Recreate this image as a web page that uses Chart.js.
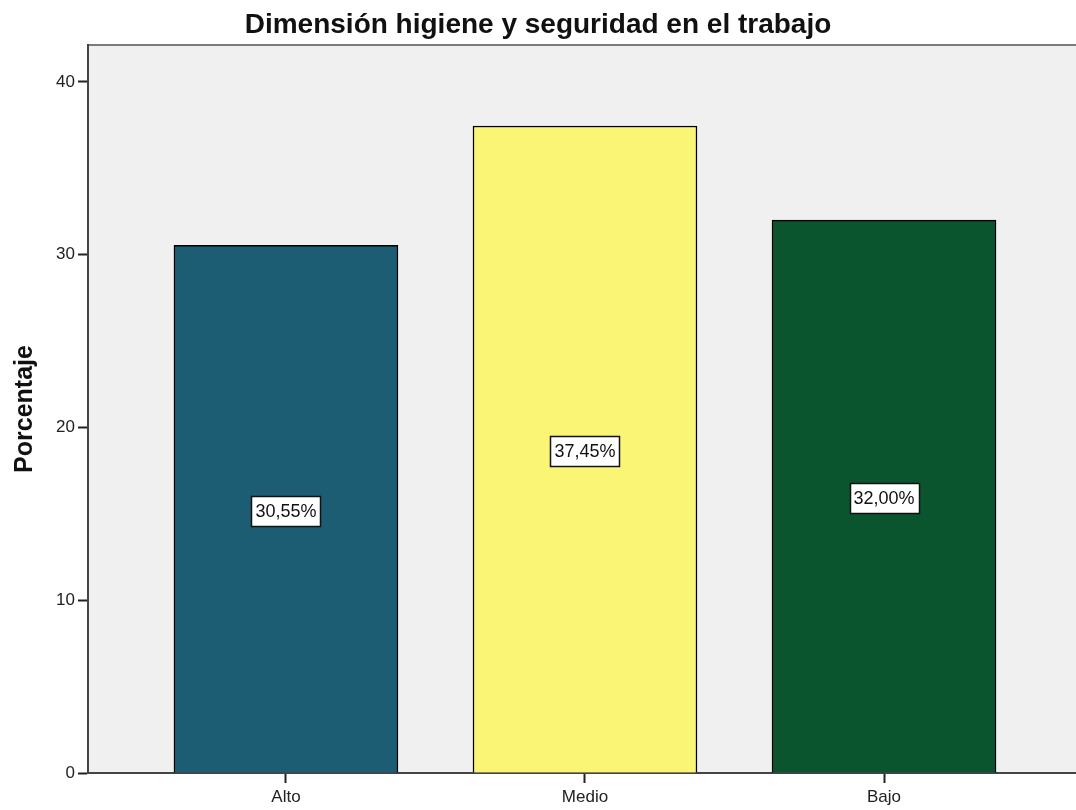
<!DOCTYPE html>
<html>
<head>
<meta charset="utf-8">
<script src="https://cdn.jsdelivr.net/npm/chart.js@4/dist/chart.umd.min.js"></script>
<style>
  body { margin: 0; background: #ffffff; }
</style>
</head>
<body>
<canvas id="chart" width="1076" height="810"></canvas>
<script>
// data
const categorias = ['Alto', 'Medio', 'Bajo'];
const porcentajes = [30.55, 37.45, 32.00];
const etiquetas = ['30,55%', '37,45%', '32,00%'];
const colores = ['#1d5d74', '#faf575', '#0b552e'];
const yTicks = [0, 10, 20, 30, 40];

Chart.defaults.font.family = "'Liberation Sans', Arial, sans-serif";
Chart.defaults.color = '#222';

// grey plot background + top frame line
const fondo = {
    id: 'fondo',
    beforeDraw(chart) {
        const a = chart.chartArea;
        const ctx = chart.ctx;
        ctx.save();
        ctx.fillStyle = '#f0f0f0';
        ctx.fillRect(a.left, a.top, a.right - a.left, a.bottom - a.top);
        ctx.strokeStyle = '#7a7a7a';
        ctx.lineWidth = 2;
        ctx.beginPath();
        ctx.moveTo(a.left, a.top);
        ctx.lineTo(a.right, a.top);
        ctx.stroke();
        ctx.restore();
    }
};

// boxed percentage labels in the middle of each bar
const cajas = {
    id: 'cajas',
    afterDatasetsDraw(chart) {
        const ctx = chart.ctx;
        const meta = chart.getDatasetMeta(0);
        ctx.save();
        ctx.font = "18px 'Liberation Sans', Arial, sans-serif";
        ctx.textAlign = 'center';
        ctx.textBaseline = 'middle';
        meta.data.forEach((bar, i) => {
            const cy = (bar.y + bar.base) / 2 + 2;
            const w = Math.round(ctx.measureText(etiquetas[i]).width + 8);
            const h = 30;
            const x0 = Math.round(bar.x - w / 2) + 0.5;
            const y0 = Math.round(cy - h / 2) + 0.5;
            ctx.fillStyle = '#ffffff';
            ctx.fillRect(x0, y0, w, h);
            ctx.strokeStyle = '#111';
            ctx.lineWidth = 1.5;
            ctx.strokeRect(x0, y0, w, h);
            ctx.fillStyle = '#111';
            ctx.fillText(etiquetas[i], bar.x, cy + 1);
        });
        ctx.restore();
    }
};

const puntos = porcentajes.map((v, i) => ({ x: i + 1, y: v }));

new Chart(document.getElementById('chart'), {
    type: 'bar',
    data: {
        datasets: [{
            data: puntos,
            backgroundColor: colores,
            borderColor: '#000',
            borderWidth: 1.5,
            barThickness: 224
        }]
    },
    options: {
        responsive: false,
        animation: false,
        layout: { padding: 0 },
        plugins: {
            legend: { display: false },
            tooltip: { enabled: false },
            title: {
                display: true,
                text: 'Dimensión higiene y seguridad en el trabajo',
                color: '#111',
                font: { size: 28, weight: 'bold', lineHeight: 1.2 },
                padding: { top: 8, bottom: 3.4 }
            }
        },
        scales: {
            x: {
                type: 'linear',
                min: 0.338,
                max: 3.642,
                offset: false,
                afterBuildTicks(scale) {
                    scale.ticks = categorias.map((c, i) => ({ value: i + 1 }));
                },
                afterFit(scale) { scale.height = 37; },
                ticks: {
                    callback: (v) => categorias[v - 1],
                    font: { size: 17 },
                    color: '#222',
                    padding: 4,
                    maxRotation: 0
                },
                grid: {
                    offset: false,
                    drawOnChartArea: false,
                    tickLength: 10,
                    tickWidth: 2,
                    color: '#222'
                },
                border: { color: '#444', width: 2 }
            },
            y: {
                min: 0,
                max: 42.14,
                afterBuildTicks(scale) {
                    scale.ticks = yTicks.map(v => ({ value: v }));
                },
                afterFit(scale) { scale.width = 88; },
                ticks: {
                    font: { size: 17 },
                    color: '#222',
                    padding: 3
                },
                grid: {
                    drawOnChartArea: false,
                    tickLength: 10,
                    tickWidth: 2,
                    color: '#222'
                },
                border: { color: '#444', width: 2 },
                title: {
                    display: true,
                    text: 'Porcentaje',
                    color: '#111',
                    font: { size: 25, weight: 'bold' },
                    padding: { top: 10, bottom: 2 }
                }
            }
        }
    },
    plugins: [fondo, cajas]
});
</script>
</body>
</html>
